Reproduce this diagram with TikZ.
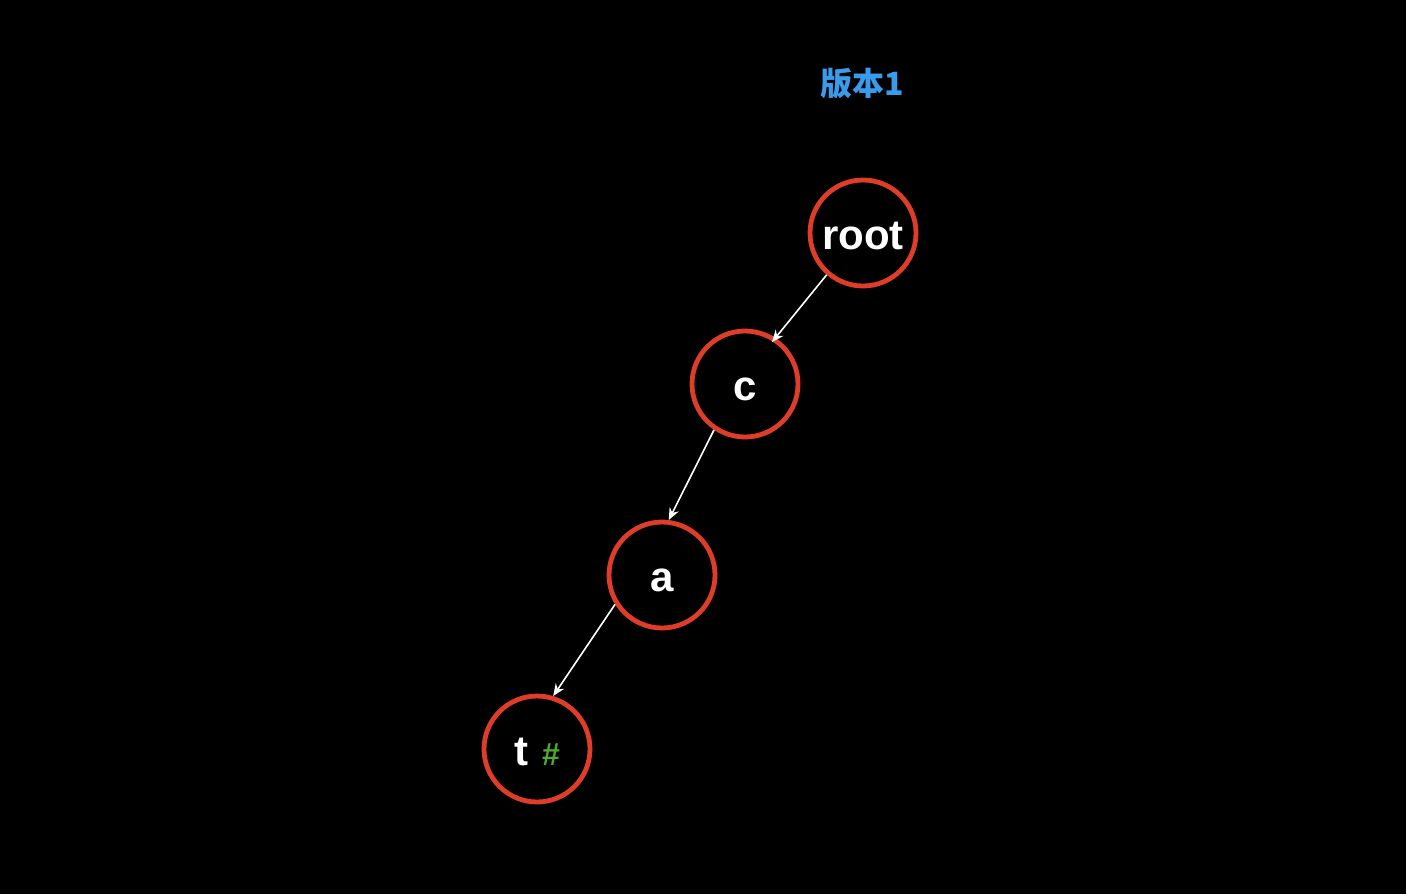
\documentclass[tikz,border=0pt]{standalone}
\usepackage{fontspec}
\setmainfont{Liberation Sans}
\newfontfamily\cjk{Noto Sans CJK SC}
\usetikzlibrary{arrows.meta}
\definecolor{ringred}{HTML}{E03C2A}
\definecolor{verblue}{HTML}{3A9BEA}
\definecolor{endgreen}{HTML}{4DAA33}
\tikzset{
  trienode/.style={circle,draw=ringred,line width=2.4pt,minimum size=53pt,
    inner sep=0pt,text=white,text height=16.5pt,text depth=0pt,
    font=\bfseries\fontsize{21}{24}\selectfont},
  trieedge/.style={white,line width=0.8pt,-{Stealth[length=6pt,width=5pt]}}
}
\begin{document}
\begin{tikzpicture}[x=0.5pt,y=-0.5pt]
    \fill[black] (0,0) rectangle (1406,894);
    \node[text=verblue,font=\cjk\bfseries\fontsize{16}{18}\selectfont] (ver) at (862,84) {版本1};
    \node[trienode] (root) at (863,233) {root};
    \node[trienode] (c) at (745,384) {c};
    \node[trienode] (a) at (662,575) {a};
    \node[trienode] (t) at (537,749) {t\,\,{\color{endgreen}\fontsize{16}{18}\selectfont\#}};
    \draw[trieedge] (root.229) -- ([shift={(-4,4)}]c.56);
    \draw[trieedge] (c.236) -- (a.83);
    \draw[trieedge] (a.212) -- (t.73);
\end{tikzpicture}
\end{document}
